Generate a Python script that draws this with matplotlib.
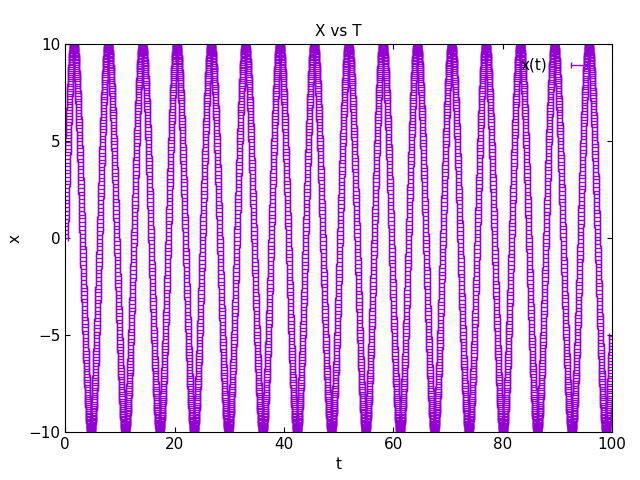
import numpy as np
import matplotlib
matplotlib.use("Agg")
import matplotlib.pyplot as plt

# simulated oscillator data (leapfrog, x0=0, v0=10, omega=1, dt=0.02)
dt = 0.02
n_steps = 5000
t_vals = [0.0]
x_vals = [0.0]
v = 10.0
x = 0.0
for i in range(n_steps):
    v_half = v - 0.5 * dt * x
    x = x + dt * v_half
    v = v_half - 0.5 * dt * x
    t_vals.append(t_vals[-1] + dt)
    x_vals.append(x)
t_vals = np.array(t_vals)
x_vals = np.array(x_vals)
xerr = 0.5

fig, ax = plt.subplots(figsize=(6.4, 4.8), dpi=100)
fig.subplots_adjust(left=0.102, right=0.956, top=0.908, bottom=0.1)
ax.errorbar(t_vals, x_vals, xerr=xerr, fmt='none', ecolor='#9400D3',
            elinewidth=1, capsize=2.5, capthick=1, label='x(t)')
ax.set_xlim(0, 100)
ax.set_ylim(-10, 10)
ax.set_xticks([0, 20, 40, 60, 80, 100])
ax.set_yticks([-10, -5, 0, 5, 10])
ax.tick_params(direction='in', top=True, right=True, labelsize=11)
ax.set_xlabel('t', fontsize=11)
ax.set_ylabel('x', fontsize=11)
ax.set_title('X vs T', fontsize=11)
ax.legend(loc='upper right', frameon=False, fontsize=11, handlelength=2.5,
          markerfirst=False)
fig.savefig('out.png')
